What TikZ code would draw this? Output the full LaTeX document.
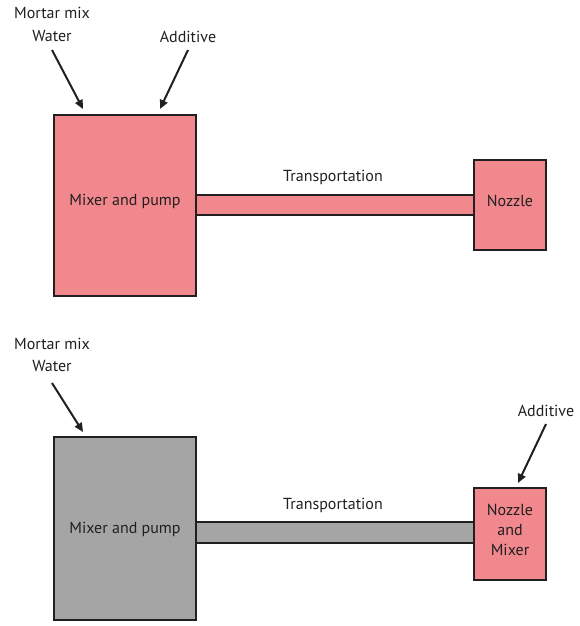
\documentclass[tikz,border=0pt]{standalone}
\usepackage{fontspec}
\setmainfont{PT Sans}
\usetikzlibrary{arrows.meta}
\definecolor{pinkfill}{HTML}{F0888E}
\definecolor{grayfill}{HTML}{A5A5A5}
\definecolor{edge}{HTML}{231F20}
\begin{document}
\begin{tikzpicture}[x=1pt,y=-1pt,
  box/.style={draw=edge,line width=2.2pt,inner sep=0pt},
  lbl/.style={text=edge,font=\fontsize{16}{19}\selectfont,inner sep=0pt},
  arr/.style={draw=edge,line width=2pt,-{Triangle[length=9pt,width=8pt]}}]
\useasboundingbox (0,0) rectangle (580,626);
% top
\path[box,fill=pinkfill] (196,195) rectangle (475,215);
\node[box,fill=pinkfill,minimum width=142pt,minimum height=181pt] (mp1) at (125,205.5) {};
\node[lbl] at (125,201) {Mixer and pump};
\node[box,fill=pinkfill,minimum width=72pt,minimum height=90pt] (nz1) at (510,205) {};
\node[lbl] at (510,201) {Nozzle};
\node[lbl] (tr1) at (333,177) {Transportation};
\node[lbl,align=center,font=\fontsize{16}{23}\selectfont] (mw1) at (52,24) {Mortar mix\\Water};
\node[lbl] (ad1) at (188,37) {Additive};
\coordinate (mwe1) at (83,109);
\coordinate (ade1) at (160,109);
\draw[arr] (52,50) -- (mwe1);
\draw[arr] (188,50) -- (ade1);
% bottom
\path[box,fill=grayfill] (196,522) rectangle (475,543);
\node[box,fill=grayfill,minimum width=142pt,minimum height=183pt] (mp2) at (125,528.5) {};
\node[lbl] at (125,529) {Mixer and pump};
\node[box,fill=pinkfill,minimum width=72pt,minimum height=92pt] (nz2) at (510,534) {};
\node[lbl,align=center,font=\fontsize{16}{20}\selectfont] at (510,530) {Nozzle\\and\\Mixer};
\node[lbl] (tr2) at (333,505) {Transportation};
\node[lbl,align=center,font=\fontsize{16}{22}\selectfont] (mw2) at (52,355) {Mortar mix\\Water};
\node[lbl] (ad2) at (546,411) {Additive};
\coordinate (mwe2) at (83,432);
\coordinate (ade2) at (518,483);
\draw[arr] (52,383) -- (mwe2);
\draw[arr] (546,424) -- (ade2);
\end{tikzpicture}
\end{document}
